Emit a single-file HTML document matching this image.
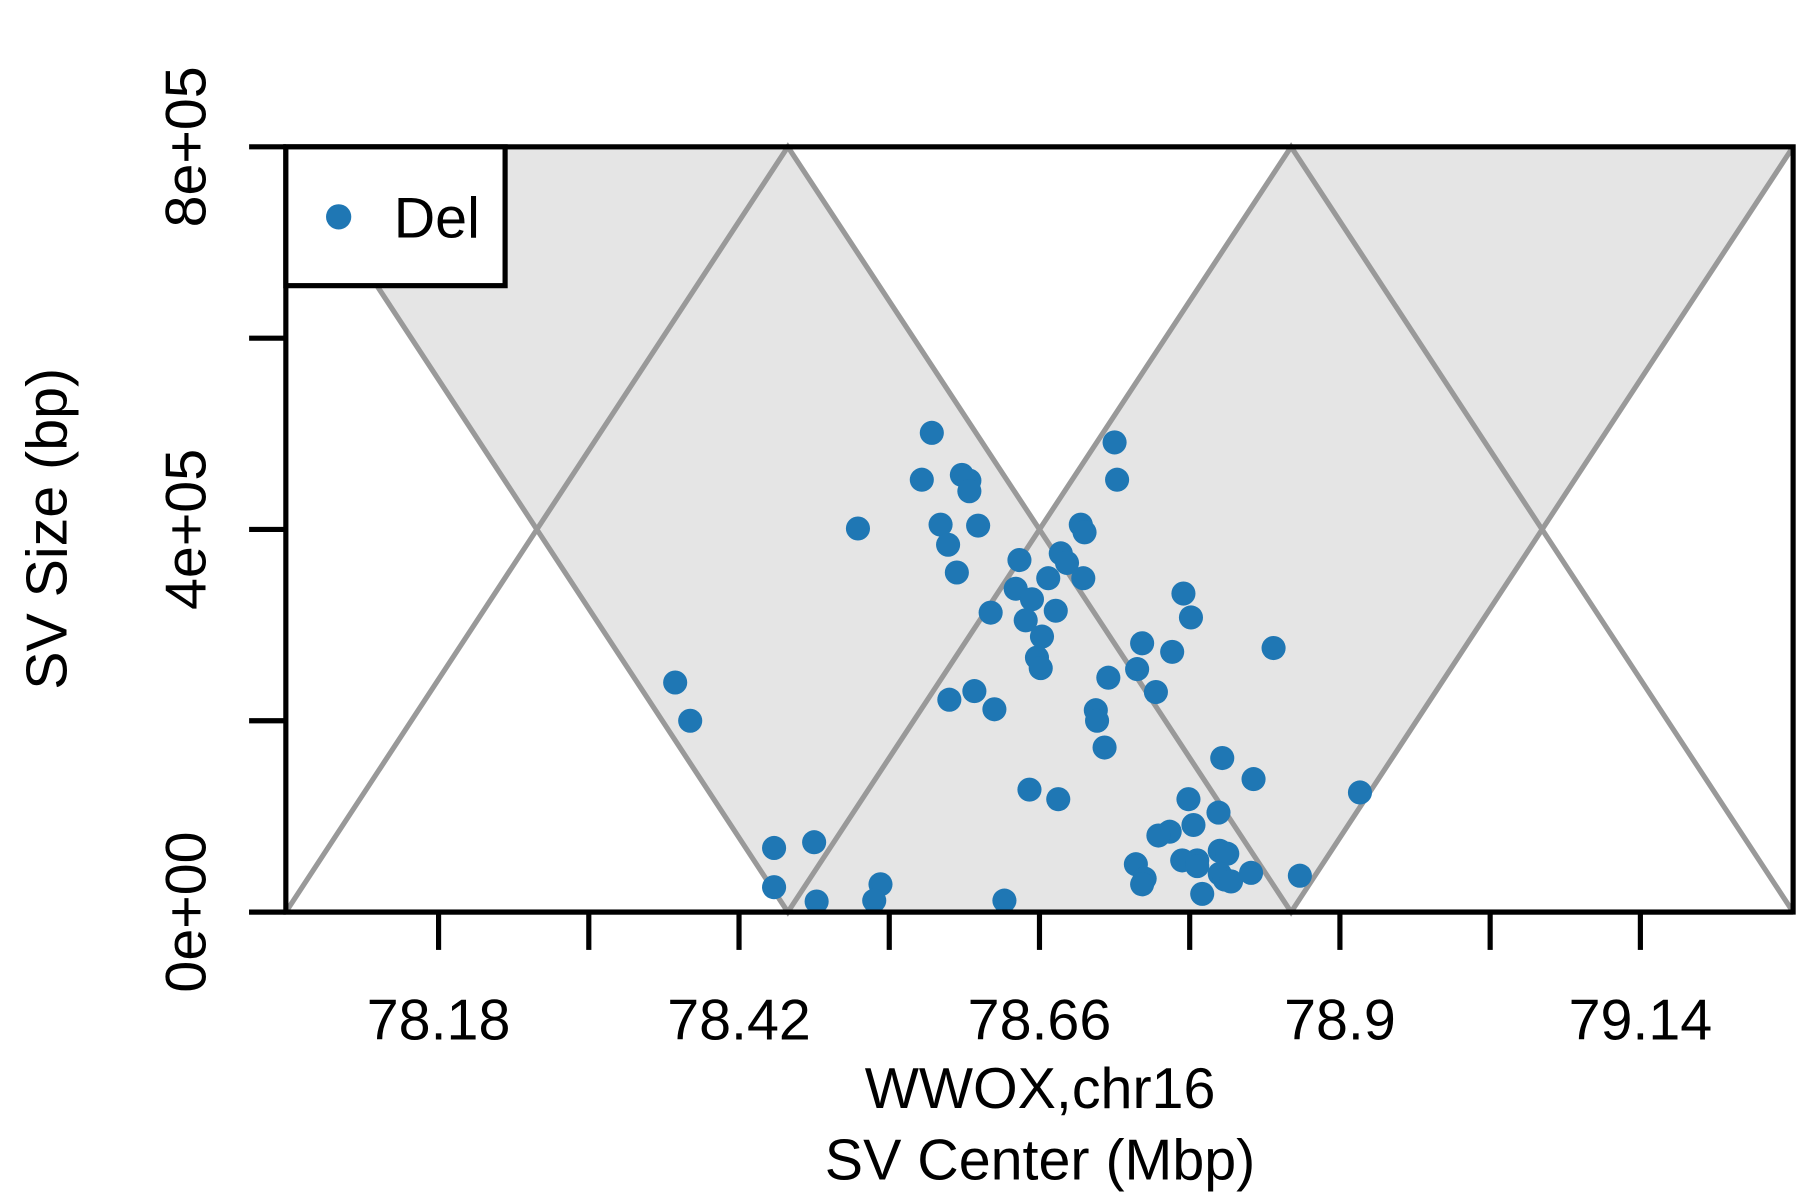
<!DOCTYPE html>
<html><head><meta charset="utf-8"><style>
html,body{margin:0;padding:0;background:#fff;}
svg{display:block;}
text{font-family:"Liberation Sans",sans-serif;fill:#000;}
</style></head>
<body>
<svg id="chart" width="1800" height="1200" viewBox="0 0 1568 1046" preserveAspectRatio="none">
<g id="bands"></g>
<g id="lines"></g>
<g id="points"></g>
<g id="axes"></g>
<g>
<rect x="249" y="128" width="191" height="121" fill="#fff" stroke="#000" stroke-width="4.5"/>
<circle cx="295" cy="189" r="11" fill="#1f77b4"/>
<text x="343" y="207" font-size="50">Del</text>
</g>
<text x="906" y="966" font-size="50" text-anchor="middle">WWOX,chr16</text>
<text x="906" y="1028" font-size="50" text-anchor="middle">SV Center (Mbp)</text>
<text transform="translate(58,461) rotate(-90)" font-size="50" text-anchor="middle">SV Size (bp)</text>
</svg>
<script>
const xTicks = [78.12,78.18,78.24,78.30,78.36,78.42,78.48,78.54,78.60,78.66,78.72,78.78,78.84,78.90,78.96,79.02,79.08,79.14,79.20];
const xTickLabels = ["","78.18","","","","78.42","","","","78.66","","","","78.9","","","","79.14",""];
const yTicks = [0,200000,400000,600000,800000];
const yTickLabels = ["0e+00","","4e+05","","8e+05"];
const peakX = [78.058,78.459,78.861,79.262];
const crossX = [78.259,78.660,79.060];
const yMax = 800000;
const delX = [78.574,78.566,78.598,78.604,78.604,78.515,78.581,78.611,78.587,78.594,78.720,78.722,78.693,78.696,78.677,78.682,78.644,78.667,78.695,78.641,78.654,78.673,78.621,78.649,78.662,78.775,78.781,78.742,78.766,78.847,78.658,78.661,78.738,78.715,78.753,78.369,78.381,78.608,78.588,78.624,78.705,78.706,78.712,78.806,78.831,78.652,78.675,78.779,78.916,78.803,78.783,78.764,78.755,78.480,78.448,78.737,78.774,78.786,78.786,78.804,78.810,78.804,78.808,78.813,78.829,78.744,78.742,78.868,78.448,78.533,78.528,78.482,78.632,78.790];
const delY = [501000,452000,457000,451000,440000,401000,405000,404000,384000,355000,491000,452000,405000,397000,375000,365000,368000,349000,349000,338000,327000,315000,313000,305000,288000,333000,308000,281000,272000,276000,266000,255000,254000,245000,230000,240000,200000,231000,222000,212000,211000,200000,172000,161000,139000,128000,118000,118000,125000,104000,91000,84000,80000,73000,67000,50000,54000,54000,48000,64000,61000,40000,34000,32000,41000,35000,29000,38000,26000,29000,12000,11000,12000,19000];

(function(){
const X0=249,X1=1562,Y0=795,Y1=128;
const xMin=78.058, xMaxV=79.262;
function sx(v){return X0+(v-xMin)/(xMaxV-xMin)*(X1-X0);}
function sy(v){return Y0-(v/yMax)*(Y0-Y1);}
const NS="http://www.w3.org/2000/svg";
function mk(tag,attrs,parent){const e=document.createElementNS(NS,tag);for(const k in attrs)e.setAttribute(k,attrs[k]);parent.appendChild(e);return e;}

const bands=document.getElementById('bands');
const yT=sy(yMax), yB=sy(0), yM=sy(yMax/2);
const polys=[
 [[sx(peakX[0]),yT],[sx(peakX[1]),yT],[sx(crossX[0]),yM]],
 [[sx(crossX[0]),yM],[sx(peakX[1]),yT],[sx(crossX[1]),yM],[sx(peakX[2]),yT],[sx(crossX[2]),yM],[sx(peakX[2]),yB],[sx(peakX[1]),yB]],
 [[sx(peakX[2]),yT],[sx(peakX[3]),yT],[sx(crossX[2]),yM]]
];
polys.forEach((p,i)=>{
 const e=mk('polygon',{points:p.map(q=>q.join(',')).join(' '),fill:'#e5e5e5',stroke:'none'},bands);
 
 
});
const lines=document.getElementById('lines');
const zA=[[peakX[0],0],[peakX[1],yMax],[peakX[2],0],[peakX[3],yMax]];
const zB=[[peakX[0],yMax],[peakX[1],0],[peakX[2],yMax],[peakX[3],0]];
[zA,zB].forEach((z,i)=>{
 const e=mk('polyline',{points:z.map(q=>sx(q[0])+','+sy(q[1])).join(' '),fill:'none',stroke:'#999','stroke-width':4.5},lines);
 
 
});
const pts=document.getElementById('points');
delX.forEach((v,i)=>{
 const c=mk('circle',{cx:sx(v),cy:sy(delY[i]),r:10.5,fill:'#1f77b4'},pts);
 
 
});
const ax=document.getElementById('axes');
const box=mk('rect',{x:X0,y:Y1,width:X1-X0,height:Y0-Y1,fill:'none',stroke:'#000','stroke-width':4.5},ax);


const xl=mk('line',{x1:217,y1:Y0,x2:X1,y2:Y0,stroke:'#000','stroke-width':4.5},ax);


xTicks.forEach((v,i)=>{
 const x=sx(v); if(x<X0+20||x>X1-20) return;
 if(i%2===0) return;
 const t=mk('line',{x1:x,y1:Y0,x2:x,y2:828,stroke:'#000','stroke-width':4.5},ax);
 
 
 if(xTickLabels[i]){
  const l=mk('text',{x:x,y:906,'font-size':50,'text-anchor':'middle'},ax);
  l.textContent=xTickLabels[i];
  
  
 }
});
yTicks.forEach((v,i)=>{
 const y=sy(v);
 const t=mk('line',{x1:217,y1:y,x2:X0,y2:y,stroke:'#000','stroke-width':4.5},ax);
 
 
 if(yTickLabels[i]){
  const l=mk('text',{transform:'translate(179,'+y+') rotate(-90)','font-size':50,'text-anchor':'middle'},ax);
  l.textContent=yTickLabels[i];
  
  
 }
});
})();
</script>
</body></html>
